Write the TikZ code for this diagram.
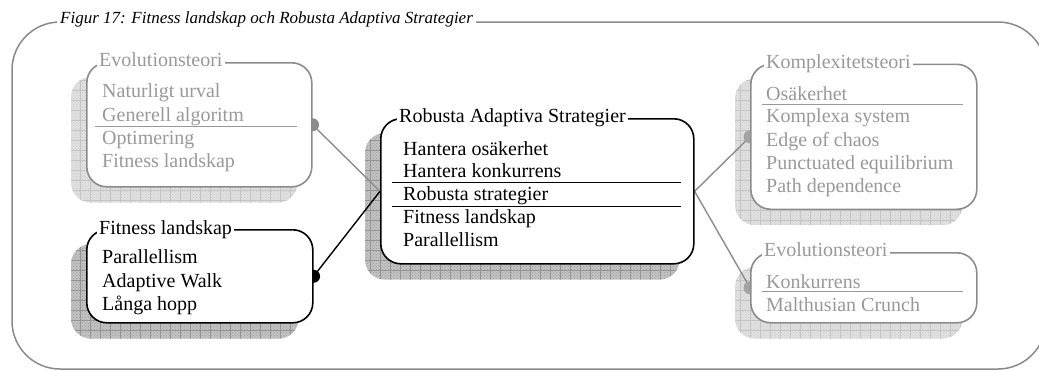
\documentclass[tikz,border=0pt]{standalone}
\usepackage{fontspec}
\setmainfont{Liberation Serif}
\usetikzlibrary{patterns}

\pgfdeclarelayer{bg}
\pgfsetlayers{bg,main}

\definecolor{frameg}{gray}{0.54}
\definecolor{lineg}{gray}{0.55}
\definecolor{textg}{gray}{0.6}
\definecolor{shlight}{gray}{0.88}
\definecolor{dotlight}{gray}{0.80}
\definecolor{gridlight}{gray}{0.77}
\definecolor{shdark}{gray}{0.76}
\definecolor{dotdark}{gray}{0.62}
\definecolor{griddark}{gray}{0.58}

\tikzset{
  every node/.style={font=\fontsize{20}{23}\selectfont},
  box/.style={rectangle, rounded corners=20pt, fill=white, line width=1.6pt,
    anchor=north west, inner sep=0pt},
  blackbox/.style={box, draw=black},
  greybox/.style={box, draw=lineg},
  head/.style={anchor=base west, fill=white, inner xsep=2pt, inner ysep=1pt},
  item/.style={anchor=base west, inner sep=0pt},
  gitem/.style={item, text=textg},
  ghead/.style={head, text=textg},
  gsep/.style={draw=textg, line width=0.9pt},
  bsep/.style={draw=black, line width=0.9pt},
  gline/.style={draw=lineg, line width=1.4pt},
  bline/.style={draw=black, line width=1.4pt},
}

% drop shade behind a box: #1 node, #2 fill, #3 dot colour, #4 grid colour
\newcommand\dropshade[4]{%
  \begin{scope}
    \clip[rounded corners=20pt] ([shift={(-15,15)}]#1.north west)
      rectangle ([shift={(-15,15)}]#1.south east);
    \fill[#2] ([shift={(-15,15)}]#1.north west)
      rectangle ([shift={(-15,15)}]#1.south east);
    \fill[pattern=crosshatch dots, pattern color=#3]
      ([shift={(-15,15)}]#1.north west)
      rectangle ([shift={(-15,15)}]#1.south east);
    \draw[#4, line width=0.7pt, xstep=10pt, ystep=10pt]
      ([shift={(-15,15)}]#1.south west) grid ([shift={(-15,15)}]#1.north east);
  \end{scope}}

\begin{document}
\begin{tikzpicture}[x=1pt, y=-1pt]
\useasboundingbox (0,0) rectangle (1039,370);

% outer frame with its caption
\draw[frameg, line width=1.5pt, rounded corners=48pt] (12,22) rectangle (1046,369);
\node[anchor=base west, fill=white, inner xsep=3pt, inner ysep=2pt,
      font=\fontsize{17}{20}\selectfont\itshape] (title) at (57,23)
  {Figur 17: Fitness landskap och Robusta Adaptiva Strategier};

% boxes
\node[greybox, minimum width=225pt, minimum height=124pt] (evoA) at (86,62) {};
\node[blackbox, minimum width=226pt, minimum height=93pt] (fit) at (86,229) {};
\node[blackbox, minimum width=313pt, minimum height=145pt] (ras) at (380,118) {};
\node[greybox, minimum width=226pt, minimum height=145pt] (komp) at (750,63.5) {};
\node[greybox, minimum width=226pt, minimum height=70pt] (evoB) at (750,252) {};

% shades and connectors behind the boxes
\begin{pgfonlayer}{bg}
  \dropshade{evoA}{shlight}{dotlight}{gridlight}
  \dropshade{fit}{shdark}{dotdark}{griddark}
  \dropshade{ras}{shdark}{dotdark}{griddark}
  \dropshade{komp}{shlight}{dotlight}{gridlight}
  \dropshade{evoB}{shlight}{dotlight}{gridlight}
  \draw[gline] (evoA.east) -- (ras.west);
  \draw[bline] (fit.east) -- (ras.west);
  \draw[gline] (ras.east) -- (komp.west);
  \draw[gline] (ras.east) -- (evoB.west);
  \fill[lineg] (evoA.east) circle[radius=6.5pt];
  \fill[black] (fit.east) circle[radius=6.5pt];
  \fill[lineg!80] (komp.west) circle[radius=6.5pt];
  \fill[lineg!80] (evoB.west) circle[radius=6.5pt];
\end{pgfonlayer}

% Evolutionsteori (upper left)
\node[ghead] (evoAh) at (97,66) {Evolutionsteori};
\node[gitem] (evoA1) at (102,97) {Naturligt urval};
\node[gitem] (evoA2) at (102,121) {Generell algoritm};
\node[gitem] (evoA3) at (102,144) {Optimering};
\node[gitem] (evoA4) at (102,167) {Fitness landskap};
\draw[gsep] (95,126.7) -- (297,126.7);

% Fitness landskap
\node[head] (fith) at (97,234) {Fitness landskap};
\node[item] (fit1) at (102,263) {Parallellism};
\node[item] (fit2) at (102,287) {Adaptive Walk};
\node[item] (fit3) at (102,310) {Långa hopp};

% Robusta Adaptiva Strategier
\node[head] (rash) at (397,122.5) {Robusta Adaptiva Strategier};
\node[item] (ras1) at (403,155) {Hantera osäkerhet};
\node[item] (ras2) at (403,177.3) {Hantera konkurrens};
\node[item] (ras3) at (403,200.7) {Robusta strategier};
\node[item] (ras4) at (403,223.3) {Fitness landskap};
\node[item] (ras5) at (403,246.7) {Parallellism};
\draw[bsep] (392,182.7) -- (681,182.7);
\draw[bsep] (392,206.7) -- (681,206.7);

% Komplexitetsteori
\node[ghead] (komph) at (764,68.5) {Komplexitetsteori};
\node[gitem] (komp1) at (766,100) {Osäkerhet};
\node[gitem] (komp2) at (766,122.7) {Komplexa system};
\node[gitem] (komp3) at (766,146) {Edge of chaos};
\node[gitem] (komp4) at (766,169.3) {Punctuated equilibrium};
\node[gitem] (komp5) at (766,192.7) {Path dependence};
\draw[gsep] (762,104) -- (963,104);

% Evolutionsteori (lower right)
\node[ghead] (evoBh) at (762,256.5) {Evolutionsteori};
\node[gitem] (evoB1) at (766,288.3) {Konkurrens};
\node[gitem] (evoB2) at (766,311.7) {Malthusian Crunch};
\draw[gsep] (762,291.7) -- (963,291.7);
\end{tikzpicture}
\end{document}
